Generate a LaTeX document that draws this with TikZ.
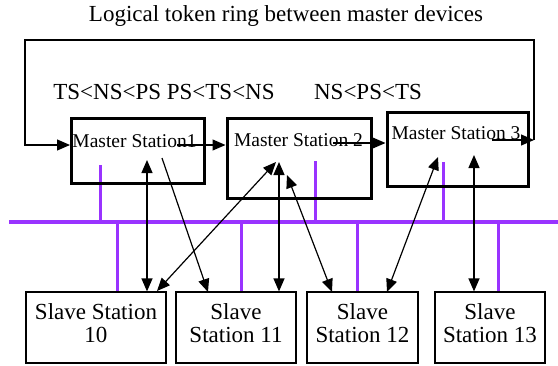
\documentclass[tikz,border=0pt]{standalone}
\usepackage{fontspec}
\setmainfont{Liberation Serif}
\usetikzlibrary{arrows.meta}
\definecolor{buspurple}{RGB}{153,51,255}
\tikzset{
  master/.style={draw, line width=3pt, inner sep=0pt},
  mtext/.style={font=\fontsize{19.5}{21}\selectfont, inner sep=0pt},
  slave/.style={draw, line width=1.2pt, minimum height=71pt, inner sep=0pt},
  stext/.style={align=center, inner sep=0pt, font=\fontsize{23}{23}\selectfont},
  tok/.style={line width=1.2pt, -{Triangle[length=13pt,width=11pt]}},
  tokk/.style={line width=1.2pt, {Triangle[length=13pt,width=11pt]}-{Triangle[length=13pt,width=11pt]}},
  bus/.style={buspurple, line width=4.5pt},
  drop/.style={buspurple, line width=3pt}
}
\begin{document}
\begin{tikzpicture}[x=1pt,y=-1pt]

    \useasboundingbox (0,0) rectangle (558,365);

    \node (title) at (286,16) {\fontsize{23}{25}\selectfont Logical token ring between master devices};
    \node (ord12) at (164,92) {\fontsize{23}{25}\selectfont TS<NS<PS PS<TS<NS};
    \node (ord3)  at (368,92) {\fontsize{23}{25}\selectfont NS<PS<TS};

    % bus and drops
    \coordinate (busL) at (9,222);   \coordinate (busR) at (558,222);
    \draw[bus] (busL) -- (busR);
    \foreach \x/\y in {100/165, 315/161, 443/162}
        \draw[drop] (\x,\y) -- (\x,222);
    \foreach \x in {117, 241, 357, 498}
        \draw[drop] (\x,222) -- (\x,292);

    % masters
    \node[master, minimum width=133pt, minimum height=65pt] (m1) at (137.5,150.5) {};
    \node[master, minimum width=144pt, minimum height=80pt] (m2) at (299,158) {};
    \node[master, minimum width=141pt, minimum height=74pt] (m3) at (457.5,149) {};
    \node[mtext] (m1t) at (134.5,141) {Master Station1};
    \node[mtext] (m2t) at (298.5,140) {Master Station 2};
    \node[mtext] (m3t) at (456,133)   {Master Station 3};

    % slaves
    \node[slave, minimum width=140pt] (s10) at (96,327.5)    {};
    \node[slave, minimum width=120pt] (s11) at (236,327.5)   {};
    \node[slave, minimum width=111pt] (s12) at (362.5,327.5) {};
    \node[slave, minimum width=110pt] (s13) at (490,327.5)   {};
    \node[stext] (s10t) at ([yshift=4pt]s10.center) {Slave Station\\10};
    \node[stext] (s11t) at ([yshift=4pt]s11.center) {Slave\\Station 11};
    \node[stext] (s12t) at ([yshift=4pt]s12.center) {Slave\\Station 12};
    \node[stext] (s13t) at ([yshift=4pt]s13.center) {Slave\\Station 13};

    % token ring
    \coordinate (m1in)  at (70,145);
    \coordinate (m1out) at (177,145);
    \coordinate (m2out) at (333,143);
    \coordinate (m3out) at (492,140);
    \coordinate (ringR) at (534,140);
    \coordinate (ringTR) at (534,40);
    \coordinate (ringTL) at (25,40);
    \coordinate (ringBL) at (25,145);
    \draw[tok] (m1out) -- (m2.west |- m1out);
    \draw[tok] (m2out) -- (m3.west |- m2out);
    \draw[tok] (m3out) -- (ringR);
    \draw[tok] (ringR) -- (ringTR) -- (ringTL) -- (ringBL) -- (m1in);

    % master <-> slave
    \coordinate (m1a) at (147,160);  \coordinate (m1b) at (162,158);
    \coordinate (m2a) at (276,162);  \coordinate (m2b) at (279,162);  \coordinate (m2c) at (287,175);
    \coordinate (m3a) at (438,157);  \coordinate (m3b) at (474,155);
    \coordinate (s10b) at (157,291);
    \coordinate (s11a) at (208,292);
    \coordinate (s12a) at (332,292); \coordinate (s12b) at (387,292);
    \draw[tokk] (m1a) -- (s10.north -| m1a);
    \draw[tok]  (m1b) -- (s11a);
    \draw[tokk] (s10b) -- (m2a);
    \draw[tokk] (m2b) -- (s11.north -| m2b);
    \draw[tokk] (m2c) -- (s12a);
    \draw[tokk] (s12b) -- (m3a);
    \draw[tokk] (m3b) -- (s13.north -| m3b);

\end{tikzpicture}
\end{document}
